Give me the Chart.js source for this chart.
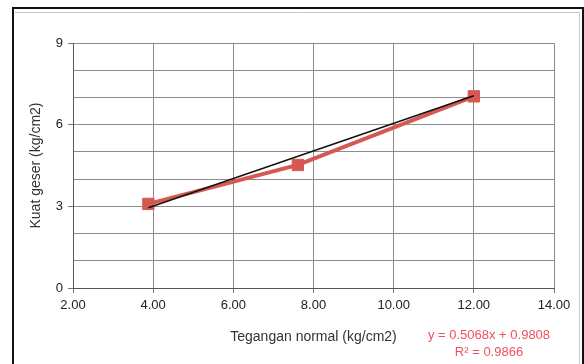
<!DOCTYPE html>
<html>
<head>
<meta charset="utf-8">
<script src="https://cdn.jsdelivr.net/npm/chart.js@4.4.1/dist/chart.umd.min.js"></script>
<style>
  html, body { margin: 0; padding: 0; background: #fff; }
  #wrap { width: 584px; height: 364px; position: relative; }
</style>
</head>
<body>
<div id="wrap"><canvas id="myChart" width="584" height="364"></canvas></div>
<script>
    "use strict";

    // data
    const tegangan = [3.88, 7.61, 12.0];   // kg/cm2
    const kuatGeser = [3.09, 4.52, 7.04];  // kg/cm2
    const trendX = [3.88, 12.0];
    const trendY = [2.95, 7.06];
    const xRange = [2, 14];
    const yRange = [0, 9];
    const eqLines = ['y = 0.5068x + 0.9808', 'R² = 0.9866'];

    const red = 'rgb(214, 88, 82)';

    // frame + trendline label
    const framePlugin = {
        id: 'frame',
        beforeDraw(chart) {
            const c = chart.ctx;
            c.save();
            c.fillStyle = '#fff';
            c.fillRect(0, 0, chart.width, chart.height);
            c.strokeStyle = '#c8c8c8';
            c.lineWidth = 1;
            c.beginPath();
            c.moveTo(15, 12.5); c.lineTo(579.5, 12.5); c.lineTo(579.5, 364);
            c.stroke();
            c.strokeStyle = '#111';
            c.lineWidth = 2;
            c.beginPath();
            c.moveTo(13, 364); c.lineTo(13, 8); c.lineTo(583, 8); c.lineTo(583, 364);
            c.stroke();
            c.restore();
        },
        afterDraw(chart) {
            const c = chart.ctx;
            c.save();
            c.fillStyle = 'rgb(240, 82, 92)';
            c.font = '13px "Liberation Sans", Arial, sans-serif';
            c.textAlign = 'center';
            c.textBaseline = 'middle';
            c.fillText(eqLines[0], 489, 335);
            c.fillText(eqLines[1], 489, 352);
            c.restore();
        }
    };

    Chart.defaults.font.family = '"Liberation Sans", Arial, sans-serif';
    Chart.defaults.color = '#222';

    const ctx = document.getElementById('myChart').getContext('2d');
    new Chart(ctx, {
        type: 'scatter',
        data: {
            datasets: [{
                label: 'Linear',
                data: trendX.map((x, i) => ({ x: x, y: trendY[i] })),
                showLine: true,
                borderColor: '#111',
                borderWidth: 1.5,
                pointRadius: 0,
                order: 0
            },
            {
                label: 'Kuat geser',
                data: tegangan.map((x, i) => ({ x: x, y: kuatGeser[i] })),
                showLine: true,
                borderColor: red,
                backgroundColor: red,
                borderWidth: 4,
                pointStyle: 'rect',
                pointRadius: 8,
                pointBorderWidth: 1,
                order: 1
            }]
        },
        options: {
            responsive: false,
            animation: false,
            layout: { padding: { left: 18, top: 43, right: 30, bottom: 0 } },
            plugins: {
                legend: { display: false },
                tooltip: { enabled: false }
            },
            scales: {
                x: {
                    type: 'linear',
                    min: xRange[0],
                    max: xRange[1],
                    afterFit(scale) { scale.height = 76; },
                    ticks: {
                        stepSize: 2,
                        padding: 5,
                        font: { size: 13 },
                        callback: v => v.toFixed(2)
                    },
                    grid: { color: '#8c8c8c', tickLength: 5, tickColor: '#777' },
                    border: { color: '#555' },
                    title: {
                        display: true,
                        text: 'Tegangan normal (kg/cm2)',
                        font: { size: 14 },
                        color: '#333',
                        padding: { top: 0, bottom: 18 }
                    }
                },
                y: {
                    min: yRange[0],
                    max: yRange[1],
                    afterFit(scale) { scale.width = 55; },
                    ticks: {
                        stepSize: 1,
                        padding: 5,
                        font: { size: 13 },
                        callback: v => (v % 3 === 0 ? v : '')
                    },
                    grid: {
                        color: '#8c8c8c',
                        tickLength: 5,
                        tickColor: c => (c.tick && c.tick.value % 3 === 0 ? '#777' : 'rgba(0,0,0,0)')
                    },
                    border: { color: '#555' },
                    title: {
                        display: true,
                        text: 'Kuat geser (kg/cm2)',
                        font: { size: 14 },
                        color: '#333',
                        padding: { top: 10, bottom: 0 }
                    }
                }
            }
        },
        plugins: [framePlugin]
    });
</script>
</body>
</html>
